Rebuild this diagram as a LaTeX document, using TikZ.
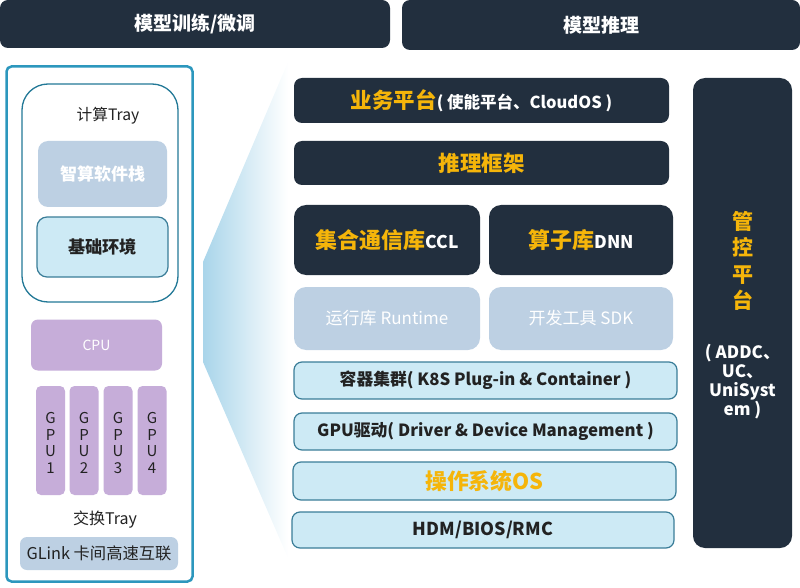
\documentclass[tikz,border=0pt]{standalone}
\usepackage{fontspec}
\setmainfont{Noto Sans CJK SC}
\begin{document}
\begin{tikzpicture}[x=1pt,y=-1pt,
  dark/.style={fill=darkc, draw=none, rounded corners=8pt},
  lgray/.style={fill=grayc, draw=none, rounded corners=10pt},
  lcyan/.style={fill=cyanc, draw=borderc, line width=1.2pt, rounded corners=8pt},
  purp/.style={fill=purpc, draw=none, rounded corners=7pt},
  yel/.style={text=yelc, font=\bfseries\fontsize{21.5}{24}\selectfont},
  wbold/.style={text=white, font=\bfseries\fontsize{17}{20}\selectfont},
  dbold/.style={text=textc, font=\bfseries\fontsize{16.8}{20}\selectfont},
  small/.style={text=textc, font=\fontsize{15.7}{18}\selectfont}]
\definecolor{darkc}{HTML}{222F3E}
\definecolor{grayc}{HTML}{BDD0E3}
\definecolor{cyanc}{HTML}{CDEAF5}
\definecolor{borderc}{HTML}{3A7D98}
\definecolor{tealc}{HTML}{2C97BD}
\definecolor{purpc}{HTML}{C6ADD9}
\definecolor{yelc}{HTML}{F5B50A}
\definecolor{textc}{HTML}{222222}
\definecolor{wedgec}{HTML}{A9D5EA}
\useasboundingbox (0,0) rectangle (800,588);
% top bars
\node[dark, minimum width=390pt, minimum height=48pt, wbold, font=\bfseries\fontsize{19}{22}\selectfont] (train) at (195,24) {模型训练/微调};
\node[dark, minimum width=398pt, minimum height=50pt, wbold, font=\bfseries\fontsize{19}{22}\selectfont] (infer) at (601,25) {模型推理};
% wedge
\shade[left color=wedgec, right color=white, draw=none] (203,262) -- (288,62) -- (288,558) -- (203,362) -- cycle;
% left panel
\node[draw=tealc, line width=2.5pt, fill=white, rounded corners=5pt, minimum width=186pt, minimum height=515pt] (panel) at (99.5,324) {};
\node[draw=tealc!80!black, line width=1.3pt, rounded corners=26pt, minimum width=156pt, minimum height=218pt] (ctray) at (100,193) {};
\node[small] (ctl) at (108,116) {计算Tray};
\node[lgray, minimum width=129pt, minimum height=66pt, text=white, font=\bfseries\fontsize{17}{20}\selectfont] (soft) at (102.5,174) {智算软件栈};
\node[lcyan, rounded corners=10pt, minimum width=131pt, minimum height=60pt, dbold, font=\bfseries\fontsize{17.2}{20}\selectfont] (base) at (102.5,247) {基础环境};
\node[purp, minimum width=131pt, minimum height=51pt, text=white, font=\fontsize{14}{16}\selectfont] (cpu) at (96.5,345) {CPU};
\foreach \i/\x in {1/50.5,2/84,3/118,4/152}{
  \node[purp, rounded corners=5pt, minimum width=29pt, minimum height=109pt] (gpu\i) at (\x,440.5) {};
  \node[align=center, text=textc, font=\fontsize{15}{16.7}\selectfont] (gput\i) at (\x,443) {G\\P\\U\\\i};
}
\node[small, font=\fontsize{16}{18}\selectfont] (stl) at (105,520) {交换Tray};
\node[lgray, rounded corners=7pt, minimum width=158pt, minimum height=33pt, small, font=\fontsize{16.3}{19}\selectfont] (glink) at (99,553.5) {GLink 卡间高速互联};
% right stack
\node[dark, minimum width=375pt, minimum height=45pt] (biz) at (481.5,100.5)
  {\textcolor{yelc}{\bfseries\fontsize{21.5}{24}\selectfont 业务平台}\textcolor{white}{\bfseries\fontsize{16.5}{19}\selectfont ( 使能平台、CloudOS )}};
\node[dark, minimum width=375pt, minimum height=44pt, yel] (frame) at (481.5,163) {推理框架};
\node[dark, rounded corners=12pt, minimum width=186pt, minimum height=70pt] (ccl) at (387,240)
  {\textcolor{yelc}{\bfseries\fontsize{22}{25}\selectfont 集合通信库}\textcolor{white}{\bfseries\fontsize{17.5}{20}\selectfont CCL}};
\node[dark, rounded corners=12pt, minimum width=184pt, minimum height=70pt] (dnn) at (581,240)
  {\textcolor{yelc}{\bfseries\fontsize{22}{25}\selectfont 算子库}\textcolor{white}{\bfseries\fontsize{17.5}{20}\selectfont DNN}};
\node[lgray, rounded corners=12pt, minimum width=186pt, minimum height=63pt, text=white, font=\fontsize{17}{20}\selectfont] (rt) at (387,318.5) {运行库 Runtime};
\node[lgray, rounded corners=12pt, minimum width=184pt, minimum height=63pt, text=white, font=\fontsize{17}{20}\selectfont] (sdk) at (581,318.5) {开发工具 SDK};
\node[lcyan, minimum width=383pt, minimum height=37pt, dbold] (k8s) at (485.5,380.5) {容器集群( K8S Plug-in \& Container )};
\node[lcyan, minimum width=383pt, minimum height=37pt, dbold] (drv) at (485.5,431.5) {GPU驱动( Driver \& Device Management )};
\node[lcyan, minimum width=383pt, minimum height=38pt, yel, font=\bfseries\fontsize{21.8}{24}\selectfont] (os) at (484.5,481) {操作系统OS};
\node[lcyan, minimum width=382pt, minimum height=36pt, dbold, font=\bfseries\fontsize{17.8}{20}\selectfont] (hdm) at (483,530) {HDM/BIOS/RMC};
% management column
\node[dark, rounded corners=12pt, minimum width=99pt, minimum height=470pt] (mgmt) at (742.5,313) {};
\node[yel, align=center, font=\bfseries\fontsize{21}{26.5}\selectfont] (mgt) at (742.5,261) {管\\控\\平\\台};
\node[wbold, align=center, font=\bfseries\fontsize{17}{19}\selectfont] (mgs) at (742.5,381.5) {( ADDC、\\UC、\\UniSyst\\em )};
\end{tikzpicture}
\end{document}
